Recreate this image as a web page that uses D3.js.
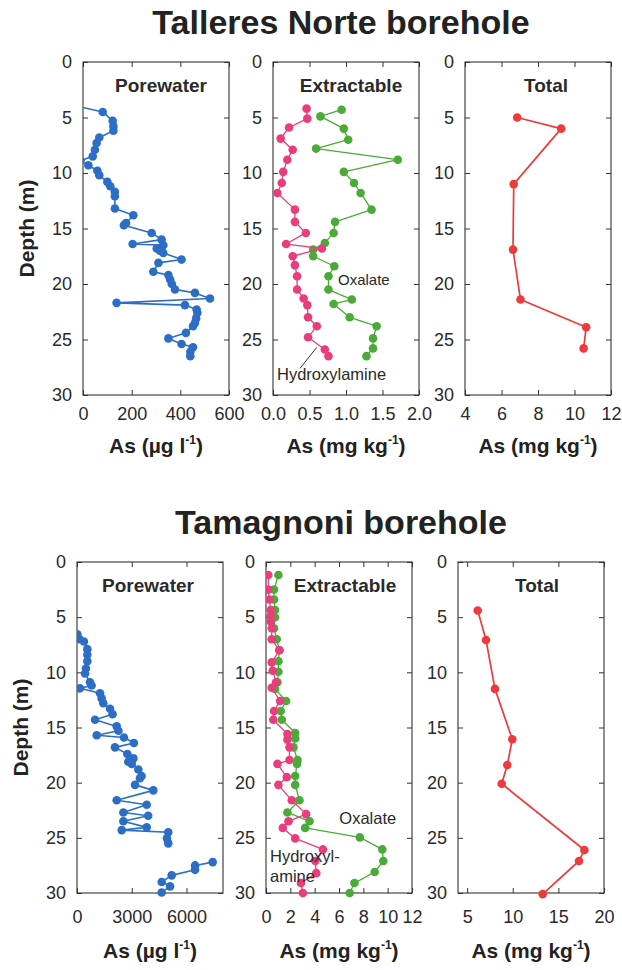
<!DOCTYPE html>
<html><head><meta charset="utf-8">
<script src="https://cdn.jsdelivr.net/npm/d3@7"></script>
<style>
html,body{margin:0;padding:0;background:#fff;}
svg{display:block;font-family:"Liberation Sans",Arial,Helvetica,sans-serif;}
.tick text{fill:#2a2a2a;}
</style></head>
<body><svg id="c" width="622" height="970"></svg>
<script>
// ---------- DATA ----------
const depthTicks = [0,5,10,15,20,25,30];

// Talleres Norte borehole
const tnPoreDepth = [4.0,4.5,5.3,5.8,6.2,6.8,7.3,7.9,8.5,8.9,9.3,9.8,10.2,10.8,11.2,11.7,12.1,13.2,13.8,14.5,14.7,15.4,16.0,16.4,16.5,16.8,17.0,17.2,17.8,18.1,18.9,19.2,19.6,20.0,20.5,20.8,21.3,21.7,21.9,22.3,22.6,23.1,23.5,23.8,24.4,24.9,25.4,25.7,26.1,26.5];
const tnPoreAs    = [-20,81,122,125,125,67,56,49,40,-10,22,59,67,100,112,131,131,131,207,177,168,282,323,204,330,303,316,330,405,310,289,351,358,365,378,460,522,138,419,467,470,465,460,452,423,351,405,452,441,441];
const tnHydDepth  = [4.2,5.1,5.9,6.9,7.9,8.8,9.9,10.9,11.8,13.3,14.4,15.4,16.4,16.8,17.5,18.3,19.3,20.5,21.3,21.9,23.0,23.8,24.8,25.9,26.5];
const tnHydAs     = [0.46,0.47,0.22,0.105,0.27,0.196,0.14,0.12,0.06,0.30,0.30,0.45,0.18,0.67,0.27,0.30,0.33,0.33,0.42,0.47,0.48,0.60,0.48,0.71,0.76];
const tnOxDepth   = [4.3,4.9,6.0,7.0,7.8,8.8,9.9,10.9,11.8,13.3,14.4,15.4,16.3,16.9,17.5,18.4,19.3,20.5,21.4,21.8,23.0,23.8,24.9,25.8,26.5];
const tnOxAs      = [0.94,0.65,0.97,1.03,0.59,1.71,0.97,1.11,1.20,1.35,0.85,0.83,0.71,0.55,0.55,0.84,0.76,0.76,1.08,0.83,1.05,1.42,1.37,1.37,1.28];
const tnTotDepth  = [5.0,6.0,11.0,16.9,21.4,23.9,25.8];
const tnTotAs     = [6.86,9.27,6.67,6.63,7.04,10.64,10.5];

// Tamagnoni borehole (null = no sample, line break)
const taPoreDepth = [6.55,7.0,7.2,7.9,8.4,9.0,9.65,10.1,10.9,11.2,11.45,11.9,12.36,12.8,13.3,13.8,14.3,14.9,15.3,15.7,15.9,16.4,16.8,17.4,17.8,18.1,18.3,18.8,19.4,19.6,20.2,20.7,21.6,22.0,22.7,23.0,23.5,24.05,24.3,24.5,25.05,25.5,26.3,27.2,27.5,27.9,28.4,29.0,29.4,29.95];
const taPoreAs    = [20,130,380,565,565,565,490,440,710,800,165,1260,1350,1440,1810,1950,990,2175,2270,1080,2575,3120,2080,2760,3090,2810,3000,3360,3540,3450,3180,4180,2175,3820,2540,3900,2540,3820,2450,5000,4930,5000,null,7435,6470,6470,5190,4640,5100,4640];
const taHydDepth  = [1.18,2.5,3.4,4.35,4.9,5.4,6.0,7.0,8.0,9.1,9.85,10.9,11.4,12.6,13.5,14.3,15.6,16.1,16.8,17.95,18.3,19.5,20.2,21.6,22.85,23.5,24.1,25.05,26.05,27.1,28.2,29.1,30.0];
const taHydAs     = [0.19,0.19,0.27,0.39,0.39,0.39,0.47,0.47,1.1,0.47,0.55,0.83,0.47,1.16,0.66,0.6,1.76,1.76,1.93,1.93,0.94,1.71,1.02,2.12,3.3,1.85,1.38,2.4,4.68,4.05,4.13,2.87,3.03];
const taOxDepth   = [1.18,2.5,3.4,4.35,5.0,6.0,7.0,8.0,9.0,9.95,10.9,11.5,12.6,13.5,14.3,15.5,16.0,16.8,17.95,18.3,19.4,20.2,21.6,22.7,23.5,24.1,24.96,26.05,27.1,28.1,29.1,30.0];
const taOxAs      = [1.02,0.66,0.66,0.74,0.74,0.66,0.88,1.1,1.02,1.02,0.94,0.74,1.65,1.21,1.3,2.4,2.4,2.26,2.59,2.55,2.4,2.4,2.75,1.76,3.58,3.22,7.71,9.56,9.64,8.93,7.27,6.88];
const taTotDepth  = [4.4,7.07,11.5,16.07,18.4,20.1,26.1,27.1,30.1];
const taTotAs     = [6.16,7.07,8.05,9.95,9.4,8.79,17.85,17.26,13.28];

// axis tick labels
const tnPoreTicks = [0,200,400,600];
const tnExtTicks  = [0,0.5,1.0,1.5,2.0];
const tnTotTicks  = [4,6,8,10,12];
const taPoreTicks = [0,3000,6000];
const taExtTicks  = [0,2,4,6,8,10,12];
const taTotTicks  = [5,10,15,20];

// ---------- STYLE ----------
const C = {blue:"#2c6ec6", pink:"#ea3d7b", green:"#4aab38", red:"#ec3b3c", axis:"#333"};
const svg = d3.select("#c");
const FS = 18;

function zip(d, v){ return d.map((dd,i)=>({d:dd, v:v[i]})); }

function panel(o){
  const g = svg.append("g");
  const x = d3.scaleLinear().domain(o.xDomain).range([o.x0, o.x0+o.w]);
  const y = d3.scaleLinear().domain([0,30]).range([o.y0, o.y0+o.h]);
  const id = "clip"+Math.round(o.x0)+"_"+Math.round(o.y0);
  svg.append("clipPath").attr("id",id).append("rect")
     .attr("x",o.x0).attr("y",o.y0-20).attr("width",o.w+30).attr("height",o.h+40);

  const ax = (gen, tx, ty) => {
    const a = g.append("g").attr("transform",`translate(${tx},${ty})`).call(gen);
    a.select(".domain").remove();
    a.selectAll("line").attr("stroke",C.axis).attr("stroke-width",1);
    a.selectAll("text").attr("font-size",FS).attr("fill","#2a2a2a");
    return a;
  };
  ax(d3.axisBottom(x).tickValues(o.xTicks).tickSizeInner(-5).tickSizeOuter(0).tickPadding(o.tickPad).tickFormat(o.fmt), 0, o.y0+o.h);
  ax(d3.axisTop(x).tickValues(o.xTicks).tickSizeInner(-5).tickSizeOuter(0).tickFormat(""), 0, o.y0);
  ax(d3.axisLeft(y).tickValues(depthTicks).tickSizeInner(-5).tickSizeOuter(0).tickPadding(11), o.x0, 0);
  ax(d3.axisRight(y).tickValues(depthTicks).tickSizeInner(-5).tickSizeOuter(0).tickFormat(""), o.x0+o.w, 0);
  g.append("rect").attr("x",o.x0).attr("y",o.y0).attr("width",o.w).attr("height",o.h)
   .attr("fill","none").attr("stroke",C.axis).attr("stroke-width",1.1);

  const marks = g.append("g").attr("clip-path",`url(#${id})`);
  o.series.forEach(s=>{
    const pts = zip(s.depth, s.vals);
    const line = d3.line().defined(p=>p.v!==null).x(p=>x(p.v)).y(p=>y(p.d));
    marks.append("path").attr("d",line(pts)).attr("fill","none")
      .attr("stroke",s.color).attr("stroke-width",s.lw||1.4).attr("stroke-linejoin","round");
    marks.selectAll(null).data(pts.filter(p=>p.v!==null)).enter().append("circle")
      .attr("cx",p=>x(p.v)).attr("cy",p=>y(p.d)).attr("r",s.r||4.3).attr("fill",s.color);
  });

  g.append("text").attr("x",o.x0+o.w/2+o.tdx).attr("y",o.titleY).attr("text-anchor","middle")
   .attr("font-weight","bold").attr("font-size",19).attr("fill","#2a2a2a").text(o.title);

  const t = g.append("text").attr("x",o.x0+o.w/2).attr("y",o.xtY).attr("text-anchor","middle")
   .attr("font-weight","bold").attr("font-size",21).attr("fill","#222");
  t.append("tspan").text(o.unit==="ug" ? "As (µg l" : "As (mg kg");
  t.append("tspan").attr("dy",-9).attr("font-size",12).text("-1");
  t.append("tspan").attr("dy",9).text(")");

  if (o.depthTitle){
    svg.append("text").attr("transform",`translate(${o.x0-49},${o.y0+o.h/2}) rotate(-90)`)
      .attr("text-anchor","middle").attr("font-weight","bold").attr("font-size",21).attr("fill","#222")
      .text("Depth (m)");
  }
  if (o.annot) o.annot(g, x, y);
  return {x,y};
}

svg.append("text").attr("x",341).attr("y",34).attr("text-anchor","middle").attr("font-weight","bold")
  .attr("font-size",34).attr("fill","#222").text("Talleres Norte borehole");
svg.append("text").attr("x",341).attr("y",534).attr("text-anchor","middle").attr("font-weight","bold")
  .attr("font-size",34).attr("fill","#222").text("Tamagnoni borehole");

const TOP = {y0:62, h:333, w:146, tickPad:12, titleY:92, xtY:453};
const BOT = {y0:562, h:331, w:146, tickPad:17, titleY:592, xtY:958};

panel(Object.assign({}, TOP, {x0:83, xDomain:[0,600], xTicks:tnPoreTicks, fmt:d3.format("d"),
  title:"Porewater", tdx:5, unit:"ug", depthTitle:true,
  series:[{depth:tnPoreDepth, vals:tnPoreAs, color:C.blue, lw:1.6}]}));

panel(Object.assign({}, TOP, {x0:273, xDomain:[0,2], xTicks:tnExtTicks, fmt:d3.format(".1f"),
  title:"Extractable", tdx:5, unit:"mg",
  series:[{depth:tnOxDepth, vals:tnOxAs, color:C.green, lw:1.3},
          {depth:tnHydDepth, vals:tnHydAs, color:C.pink, lw:1.3}],
  annot:(g,x,y)=>{
    g.append("text").attr("x",x(0.89)).attr("y",y(20.1)).attr("font-size",15).attr("fill","#2a2a2a").text("Oxalate");
    g.append("text").attr("x",x(0.055)).attr("y",y(28.65)).attr("font-size",16.5).attr("fill","#2a2a2a").text("Hydroxylamine");
    g.append("line").attr("x1",x(0.37)).attr("y1",y(27.6)).attr("x2",x(0.60)).attr("y2",y(25.7))
      .attr("stroke","#333").attr("stroke-width",1);
  }}));

panel(Object.assign({}, TOP, {x0:465, xDomain:[4,12], xTicks:tnTotTicks, fmt:d3.format("d"),
  title:"Total", tdx:8, unit:"mg",
  series:[{depth:tnTotDepth, vals:tnTotAs, color:C.red, lw:1.7}]}));

panel(Object.assign({}, BOT, {x0:77, xDomain:[0,8000], xTicks:taPoreTicks, fmt:d3.format("d"),
  title:"Porewater", tdx:-2, unit:"ug", depthTitle:true,
  series:[{depth:taPoreDepth, vals:taPoreAs, color:C.blue, lw:1.6}]}));

panel(Object.assign({}, BOT, {x0:266, xDomain:[0,12], xTicks:taExtTicks, fmt:d3.format("d"),
  title:"Extractable", tdx:6, unit:"mg",
  series:[{depth:taOxDepth, vals:taOxAs, color:C.green, lw:1.3},
          {depth:taHydDepth, vals:taHydAs, color:C.pink, lw:1.3}],
  annot:(g,x,y)=>{
    g.append("text").attr("x",x(6.03)).attr("y",y(23.75)).attr("font-size",16.5).attr("fill","#2a2a2a").text("Oxalate");
    g.append("text").attr("x",x(0.33)).attr("y",y(27.2)).attr("font-size",16.5).attr("fill","#2a2a2a").text("Hydroxyl-");
    g.append("text").attr("x",x(0.33)).attr("y",y(29.0)).attr("font-size",16.5).attr("fill","#2a2a2a").text("amine");
  }}));

panel(Object.assign({}, BOT, {x0:458, xDomain:[4,20], xTicks:taTotTicks, fmt:d3.format("d"),
  title:"Total", tdx:6, unit:"mg",
  series:[{depth:taTotDepth, vals:taTotAs, color:C.red, lw:1.7}]}));
</script>
</body></html>
